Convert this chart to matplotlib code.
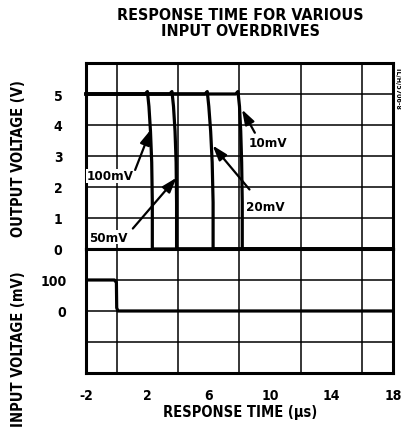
import matplotlib
matplotlib.use("Agg")
import matplotlib.pyplot as plt

# ============ Data ============
overdrives = ['100mV', '50mV', '20mV', '10mV']
out_t = {
    '100mV': [-2, 1.85, 2.0, 2.1, 2.2, 2.28, 2.32, 2.32, 18],
    '50mV': [-2, 3.45, 3.6, 3.7, 3.8, 3.87, 3.9, 3.9, 18],
    '20mV': [-2, 5.75, 5.9, 6.0, 6.12, 6.22, 6.28, 6.28, 18],
    '10mV': [-2, 7.75, 7.9, 8.0, 8.08, 8.14, 8.18, 8.18, 18],
}
out_v = [5, 5, 5.08, 4.6, 3.8, 2.8, 1.5, 0, 0]

in_t = [-2, -0.15, -0.02, 0.0, 0.08, 18]
in_mv = [100, 100, 92, 10, 0, 0]

x_ticks = [-2, 2, 6, 10, 14, 18]
out_ticks = [0, 1, 2, 3, 4, 5]
in_ticks = [0, 100]

# label text position, arrow tail, arrow tip (t, V)
labels = {
    '100mV': ((-0.45, 2.36), (1.2, 2.55), (2.22, 3.85)),
    '50mV': ((-0.55, 0.38), (1.05, 0.66), (3.9, 2.3)),
    '20mV': ((9.7, 1.37), (8.65, 1.92), (6.25, 3.34)),
    '10mV': ((9.85, 3.42), (9.0, 3.75), (8.16, 4.5)),
}

# ============ Fonts ============
plt.rcParams['font.family'] = ['DejaVu Sans']
plt.rcParams['font.stretch'] = 'condensed'
plt.rcParams['font.weight'] = 'bold'
plt.rcParams['axes.unicode_minus'] = False

fig = plt.figure(figsize=(4.01, 4.31), dpi=100)
gs = fig.add_gridspec(2, 1, height_ratios=[6, 4], hspace=0,
                      left=0.2145, right=0.98, top=0.8515, bottom=0.1323)
ax1 = fig.add_subplot(gs[0])
ax2 = fig.add_subplot(gs[1], sharex=ax1)

for ax in (ax1, ax2):
    ax.set_xlim(-2, 18)
    ax.set_xticks(range(-2, 19, 2), minor=True)
    ax.grid(True, which='minor', axis='x', color='black', lw=1.1)
    ax.grid(True, which='major', axis='y', color='black', lw=1.1)
    ax.tick_params(which='both', length=0)
    for s in ax.spines.values():
        s.set_linewidth(2.2)

ax1.set_ylim(0, 6)
ax1.set_yticks(range(0, 7))
ax1.set_yticklabels([str(v) if v in out_ticks else '' for v in range(0, 7)])
ax1.tick_params(axis='x', labelbottom=False)
ax1.tick_params(axis='y', pad=17, labelsize=10)

ax2.set_ylim(-200, 200)
ax2.set_yticks([-200, -100, 0, 100, 200])
ax2.set_yticklabels(['', '', '0', '100', ''])
ax2.set_xticks(x_ticks)
ax2.tick_params(axis='y', pad=14, labelsize=10)
ax2.tick_params(axis='x', pad=11, labelsize=10)

for name in overdrives:
    ax1.plot(out_t[name], out_v, color='black', lw=2.3, solid_joinstyle='round',
             clip_on=False)
ax2.plot(in_t, in_mv, color='black', lw=2.3, solid_joinstyle='round')

for name, (txt, tail, tip) in labels.items():
    ax1.text(txt[0], txt[1], name, ha='center', va='center', fontsize=9.5,
             bbox=dict(facecolor='white', edgecolor='none', pad=0.5))
    ax1.annotate('', xy=tip, xytext=tail,
                 arrowprops=dict(arrowstyle='-|>,head_length=0.9,head_width=0.3',
                                 color='black', lw=1.6, shrinkA=0, shrinkB=0))

fig.text(0.599, 0.945, 'RESPONSE TIME FOR VARIOUS\nINPUT OVERDRIVES',
         ha='center', va='center', fontsize=11.5, fontweight='heavy',
         linespacing=1.1)
fig.text(0.599, 0.042, 'RESPONSE TIME (\u00b5s)', ha='center', va='center',
         fontsize=10.5)
fig.text(0.045, 0.633, 'OUTPUT VOLTAGE (V)', rotation=90, ha='center',
         va='center', fontsize=10.5)
fig.text(0.045, 0.19, 'INPUT VOLTAGE (mV)', rotation=90, ha='center',
         va='center', fontsize=10.5)
fig.text(0.991, 0.795, 'TL/H/5706-8', rotation=270, ha='center', va='center',
         fontsize=5)

fig.savefig('out.png', dpi=100)
